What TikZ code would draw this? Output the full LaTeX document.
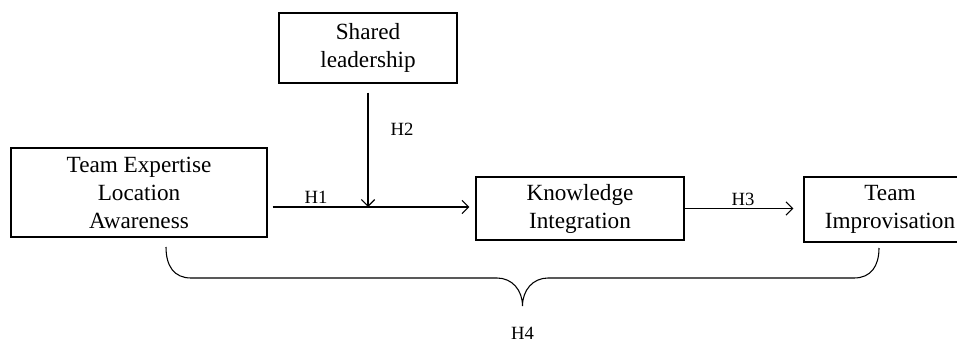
\documentclass[tikz,border=0pt]{standalone}
\usepackage{fontspec}
\setmainfont{Liberation Serif}
\usetikzlibrary{positioning}
\usetikzlibrary{arrows.meta}
\tikzset{
    factor/.style={draw, rectangle, line width=0.8pt, align=center, inner sep=2pt, font=\fontsize{17.4}{21}\selectfont},
    hyp/.style={font=\fontsize{14}{16}\selectfont, inner sep=1pt},
    arrow/.style={line width=0.8pt, -{Straight Barb[length=5pt, width=10pt]}},
    brace/.style={line width=0.8pt}
}

\begin{document}
\begin{tikzpicture}[x=0.75pt, y=-0.75pt]
\useasboundingbox (0,0) rectangle (957,343);

\node [factor, minimum width=192pt,   minimum height=66.75pt] (tela) at (139,192.5) {Team Expertise\\Location\\Awareness};
\node [factor, minimum width=133.5pt, minimum height=52.5pt]  (sl)   at (368,48)    {Shared\\leadership};
\node [factor, minimum width=156pt,   minimum height=47.25pt] (ki)   at (580,208.5) {Knowledge\\Integration};
\node [factor, minimum width=129pt,   minimum height=48.75pt] (ti)   at (890,209.5) {Team\\Improvisation};

\coordinate (h1s) at ([xshift=3.75pt] tela.east |- 0,207);
\coordinate (h1e) at ([xshift=-4.5pt] ki.west |- 0,207);
\coordinate (h2s) at ([yshift=-6.75pt] sl.south);
\coordinate (h2e) at (sl.south |- h1s);
\coordinate (h3e) at ([xshift=-7.5pt] ti.west |- ki.east);
\coordinate (bl)  at (166,247);
\coordinate (br)  at (879,248);
\coordinate (tip) at (522.5,306);

\draw [arrow] (h1s) to (h1e);
\draw [arrow] (h2s) to (h2e);
\draw [arrow] (ki.east) to (h3e);
\draw [brace] (bl) .. controls (166,266) and (174,278) .. (191,278) -- (497,278)
    .. controls (512,278) and (522.5,290) .. (tip)
    .. controls (522.5,290) and (533,278) .. (548,278) -- (854,278)
    .. controls (871,278) and (879,266) .. (br);

\node [hyp] (h1) at (316,197) {H1};
\node [hyp] (h2) at (402,129) {H2};
\node [hyp] (h3) at (743,199) {H3};
\node [hyp] (h4) at (522.5,333) {H4};

\end{tikzpicture}
\end{document}
